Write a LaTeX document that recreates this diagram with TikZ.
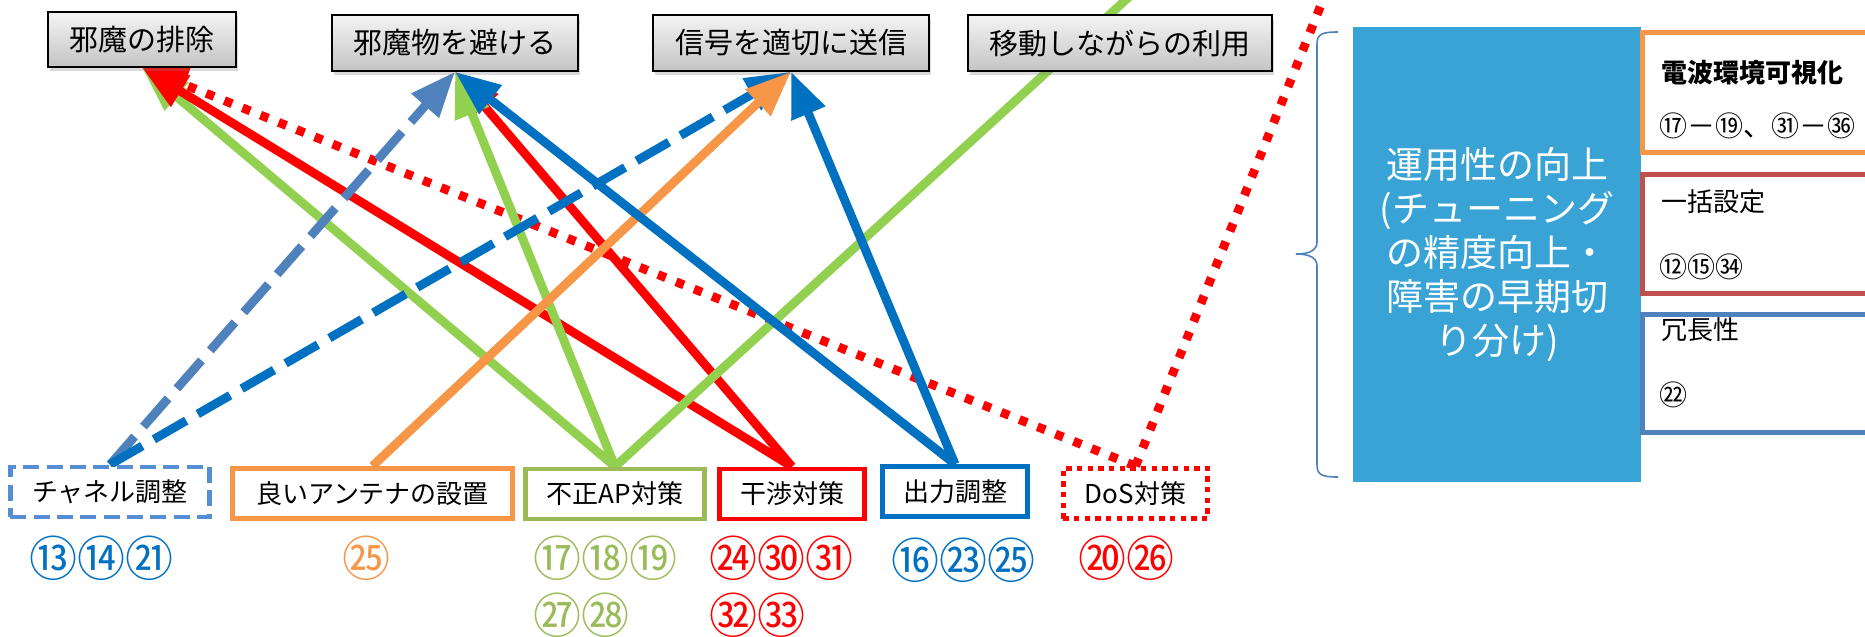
\documentclass[tikz,border=0pt]{standalone}
\usepackage{fontspec}
\setmainfont{Noto Sans CJK JP}
\usetikzlibrary{arrows.meta,shadows,backgrounds}
\definecolor{cBlueL}{HTML}{4F81BD}
\definecolor{cBlueD}{HTML}{558ED5}
\definecolor{cBlue}{HTML}{0070C0}
\definecolor{cOrange}{HTML}{F79646}
\definecolor{cGreen}{HTML}{92D050}
\definecolor{cOlive}{HTML}{9BBB59}
\definecolor{cRed}{HTML}{FF0000}
\definecolor{cBrick}{HTML}{C0504D}
\definecolor{cPanel}{HTML}{3AA3D6}
\definecolor{gTop}{HTML}{F4F4F4}
\definecolor{gBot}{HTML}{C4C4C4}
\tikzset{
  goalbox/.style={draw=black, line width=1.1pt, top color=gTop, bottom color=gBot,
    inner sep=0pt, font=\fontsize{21.75pt}{26pt}\selectfont,
    drop shadow={shadow xshift=1.8pt, shadow yshift=-3pt, opacity=0.3}},
  measbox/.style={draw, fill=white, line width=3.6pt, inner sep=0pt,
    minimum height=37.5pt, font=\fontsize{19.5pt}{24pt}\selectfont},
  numtxt/.style={inner sep=0pt, anchor=west, font=\fontsize{36pt}{42pt}\selectfont},
  sidebox/.style={draw, fill=white, line width=3.75pt, inner sep=0pt, minimum width=231pt},
  sidetxt/.style={inner sep=0pt, anchor=west, font=\fontsize{19.5pt}{24pt}\selectfont},
  sidenum/.style={inner sep=0pt, anchor=west, font=\fontsize{21pt}{24pt}\selectfont},
  link/.style={line width=6.6pt, -{Triangle[length=34pt,width=26pt]}},
  dashlink/.style={link, dash pattern=on 28pt off 10pt},
  dotlink/.style={link, dash pattern=on 6.3pt off 8.3pt},
  plainlink/.style={line width=6.6pt},
  plaindot/.style={line width=6.6pt, dash pattern=on 6.3pt off 8.3pt}
}
\begin{document}
\begin{tikzpicture}[x=0.75pt,y=-0.75pt]
\useasboundingbox (0,0) rectangle (1865,636);

% goal boxes (top)
\node[goalbox, minimum width=141pt, minimum height=41pt] (g1) at (142,39.5) {邪魔の排除};
\node[goalbox, minimum width=184.5pt, minimum height=42pt] (g2) at (455,43) {邪魔物を避ける};
\node[goalbox, minimum width=207pt, minimum height=42pt] (g3) at (791,43) {信号を適切に送信};
\node[goalbox, minimum width=228pt, minimum height=42pt] (g4) at (1120,43) {移動しながらの利用};

% measure boxes (bottom)
\node[measbox, draw=cBlueD, dash pattern=on 12pt off 5.5pt, minimum width=149.6pt] (chan) at (110,492) {チャネル調整};
\node[measbox, draw=cOrange, minimum width=210.4pt] (ant) at (372.5,493.5) {良いアンテナの設置};
\node[measbox, draw=cOlive, minimum width=134.6pt] (fus) at (615,494) {不正AP対策};
\node[measbox, draw=cRed, minimum width=109.1pt] (kan) at (792,494) {干渉対策};
\node[measbox, draw=cBlue, minimum width=109.1pt] (out) at (955,491.5) {出力調整};
\node[measbox, draw=cRed, dash pattern=on 4pt off 4pt, minimum width=108.4pt] (dos) at (1135.5,493.5) {DoS対策};

% numbers
\node[numtxt, text=cBlue] (n1) at (29,558) {⑬⑭㉑};
\node[numtxt, text=cOrange, anchor=center] (n2) at (366,558) {㉕};
\node[numtxt, text=cOlive] (n3) at (533,558) {⑰⑱⑲};
\node[numtxt, text=cOlive] (n3b) at (533,615) {㉗㉘};
\node[numtxt, text=cRed] (n4) at (709,558) {㉔㉚㉛};
\node[numtxt, text=cRed] (n4b) at (709,615) {㉜㉝};
\node[numtxt, text=cBlue] (n5) at (891,560) {⑯㉓㉕};
\node[numtxt, text=cRed] (n6) at (1078,558) {⑳㉖};

% right panel
\node[fill=cPanel, inner sep=0pt, minimum width=216pt, minimum height=341.25pt,
      text=white, align=center, font=\fontsize{27.75pt}{33pt}\selectfont] (panel) at (1497,254.5)
  {運用性の向上\\(チューニング\\の精度向上・\\障害の早期切\\り分け)};
\draw[cBlueL, line width=1.2pt] (1338,32) .. controls (1322,32) and (1317,34) .. (1317,44)
  -- (1317,242) .. controls (1317,250) and (1310,254) .. (1296,254)
  .. controls (1310,254) and (1317,258) .. (1317,266)
  -- (1317,465) .. controls (1317,475) and (1322,477) .. (1338,477);

\node[sidebox, draw=cOrange, minimum height=90pt] (vis) at (1796,92.5) {};
\node[sidebox, draw=cBrick, minimum height=89.25pt] (bulk) at (1796,234) {};
\node[sidebox, draw=cBlueL, minimum height=88.5pt] (red) at (1796,373.5) {};
\node[sidetxt, font=\fontsize{19.5pt}{24pt}\selectfont\bfseries] (t1) at (1661,73) {電波環境可視化};
\node[sidenum] (t1b) at (1659,126) {⑰－⑲、㉛－㊱};
\node[sidetxt] (t2) at (1661,202) {一括設定};
\node[sidenum] (t2b) at (1659,267) {⑫⑮㉞};
\node[sidetxt] (t3) at (1661,330) {冗長性};
\node[sidenum] (t3b) at (1659,395) {㉒};

\coordinate (gEnd) at (1142,-15);
\coordinate (dEnd) at (1329,-15);

% connectors
\begin{scope}[on background layer]
  \draw[dotlink, cRed] (dos.north) -- (g1.south);
  \draw[plaindot, cRed] (dos.north) -- (dEnd);
  \draw[link, cGreen] (fus.north) -- (g1.south);
  \draw[link, cRed] (kan.north) -- (g1.south);
  \draw[link, cRed] (kan.north) -- (g2.south);
  \draw[link, cGreen] (fus.north) -- (g2.south);
  \draw[plainlink, cGreen] (fus.north) -- (gEnd);
  \draw[dashlink, cBlueL] (chan.north) -- (g2.south);
  \draw[dashlink, cBlue] (chan.north) -- (g3.south);
  \draw[link, cOrange] (ant.north) -- (g3.south);
  \draw[link, cBlue] (out.north) -- (g2.south);
  \draw[link, cBlue] (out.north) -- (g3.south);
\end{scope}
\end{tikzpicture}
\end{document}
